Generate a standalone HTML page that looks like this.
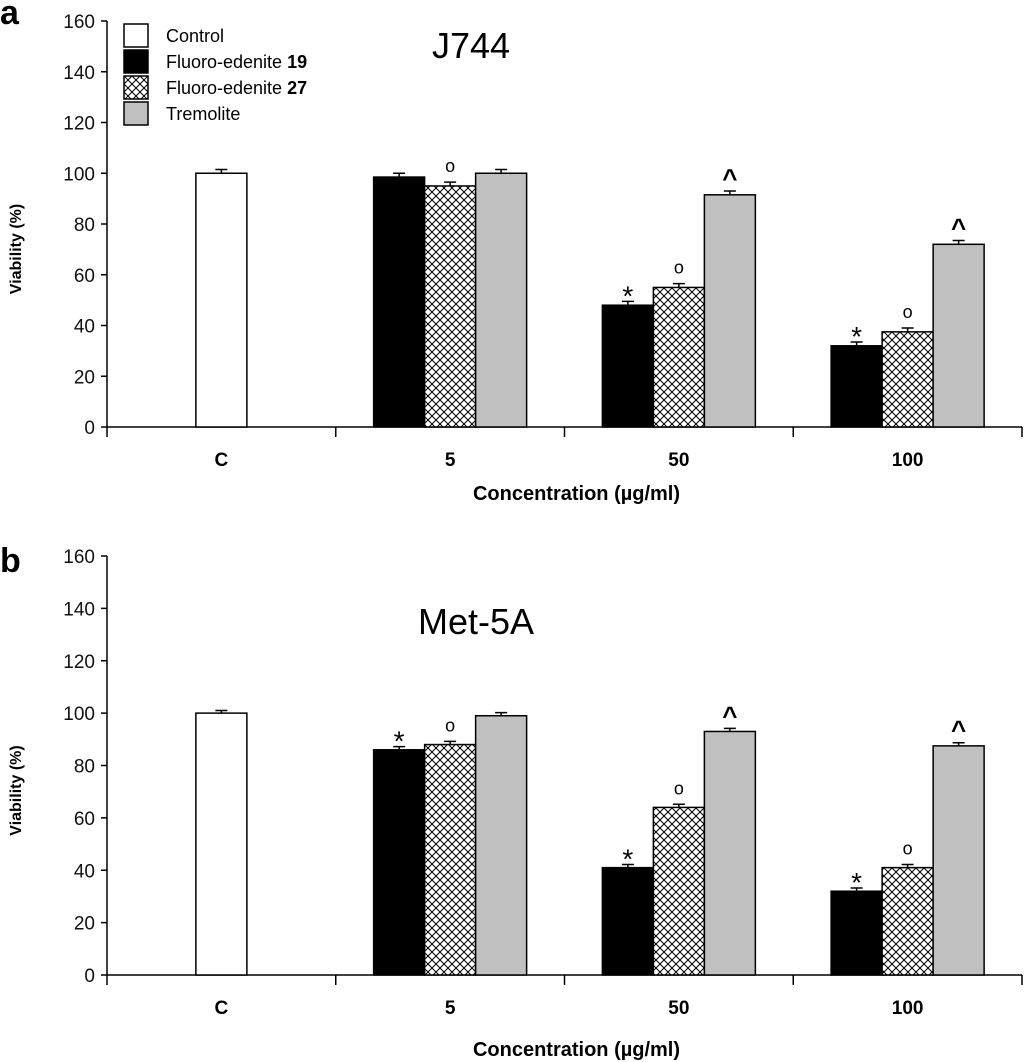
<!DOCTYPE html>
<html><head><meta charset="utf-8"><style>
html,body{margin:0;padding:0;background:#fff;}
svg{display:block;font-family:"Liberation Sans",Arial,sans-serif;}
</style></head><body>
<svg id="chart" width="1024" height="1062" viewBox="0 0 1024 1062" xmlns="http://www.w3.org/2000/svg">
<defs>
<pattern id="hatch" patternUnits="userSpaceOnUse" width="8" height="8">
<rect width="8" height="8" fill="#fff"/>
<path d="M0,0 L8,8 M8,0 L0,8" stroke="#000" stroke-width="1"/>
</pattern>
</defs>
</svg>
<script>
const categories = ["C","5","50","100"];
const seriesNames = ["Control","Fluoro-edenite 19","Fluoro-edenite 27","Tremolite"];
const yTicks = [0,20,40,60,80,100,120,140,160];
const aControl = [100];
const aFE19 = [98.5,48,32];
const aFE27 = [95,55,37.5];
const aTrem = [100,91.5,72];
const aErr = [1.5,1.5,1.5,1.5];
const bControl = [100];
const bFE19 = [86,41,32];
const bFE27 = [88,64,41];
const bTrem = [99,93,87.5];
const bErr = [1,1.2,1.2,1.2];
const aMarks = [["","o",""],["*","o","^"],["*","o","^"]];
const bMarks = [["*","o",""],["*","o","^"],["*","o","^"]];

const svg = document.getElementById('chart');
const NS = "http://www.w3.org/2000/svg";
function mk(tag, attrs, text){
  const e = document.createElementNS(NS, tag);
  for (const k in attrs) e.setAttribute(k, attrs[k]);
  if (text !== undefined) e.textContent = text;
  svg.appendChild(e);
  return e;
}
const fills = ["#fff","#000","url(#hatch)","#c0c0c0"];

function panel(p, x0, x1, yZero, yTop, control, s1, s2, s3, err, marks, title, titleX, titleY, letter, letterY, xlabY){
  const y = v => yZero - (v/160)*(yZero-yTop);
  const gw = (x1-x0)/categories.length;
  const xc = i => x0 + gw*(i+0.5);
  const bw = 51;
  const L = mk('text',{x:0,y:letterY,'font-size':34,'font-weight':'bold'},letter);
  
  
  const T = mk('text',{x:titleX,y:titleY,'font-size':36},title);
  
  
  const ya = mk('line',{x1:x0,y1:yTop,x2:x0,y2:yZero,stroke:'#000','stroke-width':1.5});
  
  
  yTicks.forEach(t=>{
    const tk = mk('line',{x1:x0-6,y1:y(t),x2:x0,y2:y(t),stroke:'#000','stroke-width':1.5});
    
    
    const tl = mk('text',{x:x0-12,y:y(t)+7,'font-size':19,'text-anchor':'end',fill:'#111'},String(t));
    
    
  });
  const yl = mk('text',{x:0,y:0,'font-size':16,'font-weight':'bold','text-anchor':'middle',transform:`translate(21,${(yTop+yZero)/2+25}) rotate(-90)`},'Viability (%)');
  
  
  const xa = mk('line',{x1:x0,y1:yZero,x2:x1,y2:yZero,stroke:'#000','stroke-width':1.5});
  
  
  for (let i=0;i<=categories.length;i++){
    const tk = mk('line',{x1:x0+gw*i,y1:yZero,x2:x0+gw*i,y2:yZero+10,stroke:'#000','stroke-width':1.5});
    
    
  }
  categories.forEach((c,i)=>{
    const tl = mk('text',{x:xc(i),y:yZero+39,'font-size':19,'font-weight':'bold','text-anchor':'middle'},c);
    
    
  });
  const xl = mk('text',{x:(x0+x1)/2+12,y:xlabY,'font-size':20,'font-weight':'bold','text-anchor':'middle'},'Concentration (µg/ml)');
  
  
  function bar(cx, v, e, fill, name, mark){
    const r = mk('rect',{x:cx-bw/2,y:y(v),width:bw,height:yZero-y(v),fill:fill,stroke:'#000','stroke-width':1.5});
    
    
    const eb = mk('path',{d:`M${cx},${y(v)} V${y(v+e)} M${cx-6},${y(v+e)} H${cx+6}`,stroke:'#000','stroke-width':1.5,fill:'none'});
    
    
    if (mark){
      let attrs;
      if (mark==='^') attrs={x:cx,y:y(v+e)-4,'font-size':26,'font-weight':'bold','text-anchor':'middle'};
      else if (mark==='*') attrs={x:cx,y:y(v+e)+4,'font-size':28,'text-anchor':'middle'};
      else attrs={x:cx,y:y(v+e)-10,'font-size':18,'text-anchor':'middle'};
      const m = mk('text',attrs,mark);
      
      
    }
  }
  bar(xc(0), control[0], err[0], fills[0], p+'-bar-control', '');
  [s1,s2,s3].forEach((s,si)=>{
    s.forEach((v,i)=>{
      const cx = xc(i+1) + (si-1)*bw;
      bar(cx, v, err[i+1], fills[si+1], p+'-bar-'+categories[i+1]+'-s'+(si+1), marks[i][si]);
    });
  });
}

panel('a',107,1022,427,21,aControl,aFE19,aFE27,aTrem,aErr,aMarks,'J744',432,58,'a',24,500);
panel('b',107,1022,975,556,bControl,bFE19,bFE27,bTrem,bErr,bMarks,'Met-5A',418,634,'b',572,1056);

const legY = [24,50,76,102];
seriesNames.forEach((n,i)=>{
  const r = mk('rect',{x:124,y:legY[i],width:24,height:23,fill:fills[i],stroke:'#000','stroke-width':1.5});
  
  
  const parts = n.match(/^(.*?)(\s\d+)?$/);
  const t = mk('text',{x:166,y:legY[i]+18,'font-size':18},parts[1]);
  
  
  if (parts[2]){
    const ts = document.createElementNS(NS,'tspan');
    ts.setAttribute('font-weight','bold');
    ts.textContent = parts[2];
    t.appendChild(ts);
  }
});
</script>
</body></html>
